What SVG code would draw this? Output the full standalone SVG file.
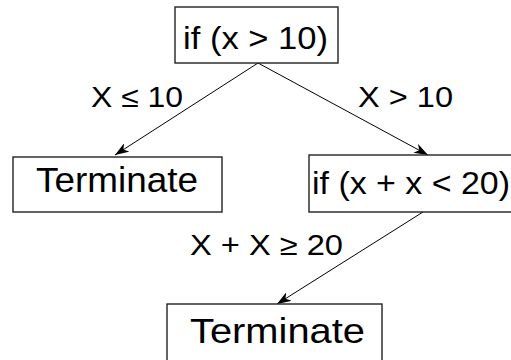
<svg xmlns="http://www.w3.org/2000/svg" width="511" height="360" viewBox="0 0 511 360">
  <defs>
    <marker id="arrow" viewBox="0 0 14 10" refX="14" refY="5" markerWidth="14" markerHeight="10" markerUnits="userSpaceOnUse" orient="auto">
      <path d="M0,0 L14,5 L0,10 L4,5 Z" fill="#000"/>
    </marker>
  </defs>
  <style>
    .box { fill: #fff; stroke: #222; stroke-width: 1.4; }
    .txt { font-family: "Liberation Sans", Arial, sans-serif; fill: #000; }
    .node { font-size: 32px; }
    .term { font-size: 35px; }
    .lbl { font-size: 29px; }
    .edge { stroke: #000; stroke-width: 1; fill: none; marker-end: url(#arrow); }
  </style>
  <rect width="511" height="360" fill="#fff"/>

  <g id="connectors">
    <line class="edge" x1="258" y1="63" x2="115" y2="155"/>
    <line class="edge" x1="258" y1="63" x2="428" y2="155"/>
    <line class="edge" x1="423" y1="212" x2="277" y2="304"/>
    <text class="txt lbl" x="91" y="107" textLength="92" lengthAdjust="spacingAndGlyphs">X ≤ 10</text>
    <text class="txt lbl" x="358" y="107" textLength="95" lengthAdjust="spacingAndGlyphs">X &gt; 10</text>
    <text class="txt lbl" x="190" y="255" textLength="153" lengthAdjust="spacingAndGlyphs">X + X ≥ 20</text>
  </g>

  <g id="n_if_x_gt_10">
    <rect class="box" x="175" y="7" width="163" height="56"/>
    <text class="txt node" x="183" y="49" textLength="145" lengthAdjust="spacingAndGlyphs">if (x &gt; 10)</text>
  </g>

  <g id="n_terminate_left">
    <rect class="box" x="13" y="157" width="209" height="55"/>
    <text class="txt term" x="36" y="192" textLength="162" lengthAdjust="spacingAndGlyphs">Terminate</text>
  </g>

  <g id="n_if_x_plus_x_lt_20">
    <rect class="box" x="309" y="155" width="215" height="57"/>
    <text class="txt node" x="312" y="194" textLength="198" lengthAdjust="spacingAndGlyphs">if (x + x &lt; 20)</text>
  </g>

  <g id="n_terminate_bottom">
    <rect class="box" x="167" y="304" width="215" height="70"/>
    <text class="txt term" x="190" y="343" textLength="175" lengthAdjust="spacingAndGlyphs">Terminate</text>
  </g>
</svg>
